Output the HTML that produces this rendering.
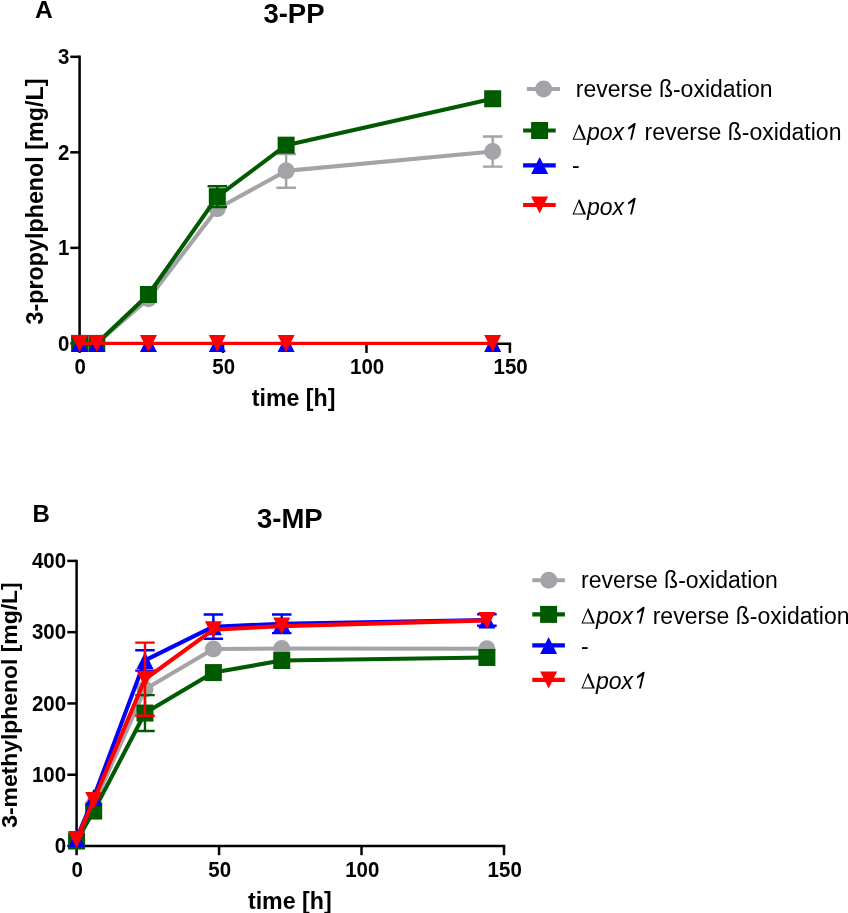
<!DOCTYPE html>
<html><head><meta charset="utf-8"><style>
html,body{margin:0;padding:0;background:#fff;width:848px;height:913px;overflow:hidden}
svg{display:block;will-change:transform}
</style></head><body>
<svg width="848" height="913" viewBox="0 0 848 913">
<style>
text{font-family:"Liberation Sans",sans-serif;fill:#000}
.tk{font-weight:bold;font-size:20.5px}
.ti{font-weight:bold;font-size:27.5px}
.ax{font-weight:bold;font-size:23.2px}
.pn{font-weight:bold;font-size:24px}
.lg{font-size:23px}
</style>
<rect width="848" height="913" fill="#fff"/>
<text x="35.0" y="17.6" class="pn" style="font-size:24.6px">A</text>
<text x="294" y="23" text-anchor="middle" class="ti">3-PP</text>
<path d="M79.6,56.8V343.7M79.6,343.7H509.9" stroke="#000" stroke-width="2.5" fill="none" stroke-linecap="square"/>
<path d="M70.3,343.40H79.6" stroke="#000" stroke-width="2.5"/>
<text transform="translate(69.3,350.90) scale(1.0,1.09)" text-anchor="end" class="tk">0</text>
<path d="M70.3,247.87H79.6" stroke="#000" stroke-width="2.5"/>
<text transform="translate(69.3,255.37) scale(1.0,1.09)" text-anchor="end" class="tk">1</text>
<path d="M70.3,152.33H79.6" stroke="#000" stroke-width="2.5"/>
<text transform="translate(69.3,159.83) scale(1.0,1.09)" text-anchor="end" class="tk">2</text>
<path d="M70.3,56.80H79.6" stroke="#000" stroke-width="2.5"/>
<text transform="translate(69.3,64.30) scale(1.0,1.09)" text-anchor="end" class="tk">3</text>
<path d="M79.60,343.7V352.9" stroke="#000" stroke-width="2.5"/>
<text transform="translate(80.30,374.4) scale(1.0,1.09)" text-anchor="middle" class="tk">0</text>
<path d="M223.03,343.7V352.9" stroke="#000" stroke-width="2.5"/>
<text transform="translate(223.73,374.4) scale(1.0,1.09)" text-anchor="middle" class="tk">50</text>
<path d="M366.47,343.7V352.9" stroke="#000" stroke-width="2.5"/>
<text transform="translate(367.17,374.4) scale(1.0,1.09)" text-anchor="middle" class="tk">100</text>
<path d="M509.90,343.7V352.9" stroke="#000" stroke-width="2.5"/>
<text transform="translate(510.60,374.4) scale(1.0,1.09)" text-anchor="middle" class="tk">150</text>
<text x="293.6" y="406.2" text-anchor="middle" class="ax">time [h]</text>
<text transform="translate(42.5,201.5) rotate(-90)" x="0" y="0" text-anchor="middle" class="ax" style="font-size:23.3px">3-propylphenol [mg/L]</text>
<polyline points="79.60,343.40 96.81,343.40 148.45,298.79 217.30,208.70 286.14,170.87 492.69,151.57" fill="none" stroke="#a3a3a8" stroke-width="4.1" stroke-linejoin="round"/>
<path d="M286.14,153.96V187.78M276.39,153.96H295.89M276.39,187.78H295.89" stroke="#a3a3a8" stroke-width="2.4" fill="none"/>
<path d="M492.69,136.47V166.66M482.94,136.47H502.44M482.94,166.66H502.44" stroke="#a3a3a8" stroke-width="2.4" fill="none"/>
<circle cx="79.60" cy="343.40" r="8.50" fill="#a3a3a8"/>
<circle cx="96.81" cy="343.40" r="8.50" fill="#a3a3a8"/>
<circle cx="148.45" cy="298.79" r="8.50" fill="#a3a3a8"/>
<circle cx="217.30" cy="208.70" r="8.50" fill="#a3a3a8"/>
<circle cx="286.14" cy="170.87" r="8.50" fill="#a3a3a8"/>
<circle cx="492.69" cy="151.57" r="8.50" fill="#a3a3a8"/>
<polyline points="79.60,343.40 96.81,343.40 148.45,294.49 217.30,196.66 286.14,145.17 492.69,98.74" fill="none" stroke="#005a00" stroke-width="4.1" stroke-linejoin="round"/>
<path d="M217.30,186.25V207.07M207.55,186.25H227.05M207.55,207.07H227.05" stroke="#005a00" stroke-width="2.4" fill="none"/>
<rect x="71.10" y="334.90" width="17" height="17" fill="#005a00"/>
<rect x="88.31" y="334.90" width="17" height="17" fill="#005a00"/>
<rect x="139.95" y="285.99" width="17" height="17" fill="#005a00"/>
<rect x="208.80" y="188.16" width="17" height="17" fill="#005a00"/>
<rect x="277.64" y="136.67" width="17" height="17" fill="#005a00"/>
<rect x="484.19" y="90.24" width="17" height="17" fill="#005a00"/>
<polyline points="79.60,343.40 96.81,343.40 148.45,343.40 217.30,343.40 286.14,343.40 492.69,343.40" fill="none" stroke="#0000ff" stroke-width="2.4" stroke-linejoin="round"/>
<path d="M71.10,351.90L79.60,334.90L88.10,351.90Z" fill="#0000ff"/>
<path d="M88.31,351.90L96.81,334.90L105.31,351.90Z" fill="#0000ff"/>
<path d="M139.95,351.90L148.45,334.90L156.95,351.90Z" fill="#0000ff"/>
<path d="M208.80,351.90L217.30,334.90L225.80,351.90Z" fill="#0000ff"/>
<path d="M277.64,351.90L286.14,334.90L294.64,351.90Z" fill="#0000ff"/>
<path d="M484.19,351.90L492.69,334.90L501.19,351.90Z" fill="#0000ff"/>
<polyline points="79.60,343.40 96.81,343.40 148.45,343.40 217.30,343.40 286.14,343.40 492.69,343.40" fill="none" stroke="#ff0000" stroke-width="3.3" stroke-linejoin="round"/>
<path d="M71.10,334.90L79.60,351.90L88.10,334.90Z" fill="#ff0000"/>
<path d="M88.31,334.90L96.81,351.90L105.31,334.90Z" fill="#ff0000"/>
<path d="M139.95,334.90L148.45,351.90L156.95,334.90Z" fill="#ff0000"/>
<path d="M208.80,334.90L217.30,351.90L225.80,334.90Z" fill="#ff0000"/>
<path d="M277.64,334.90L286.14,351.90L294.64,334.90Z" fill="#ff0000"/>
<path d="M484.19,334.90L492.69,351.90L501.19,334.90Z" fill="#ff0000"/>
<path d="M526.9,89.0H560.0" stroke="#a3a3a8" stroke-width="4.1"/>
<circle cx="543.60" cy="89.00" r="8.50" fill="#a3a3a8"/>
<text x="575.8" y="97.1" class="lg">reverse ß-oxidation</text>
<path d="M523.1,130.5H555.7" stroke="#005a00" stroke-width="4.1"/>
<rect x="531.10" y="122.00" width="17" height="17" fill="#005a00"/>
<path d="M572.50,139.70L578.85,124.50L579.75,124.50L586.10,139.70ZM574.02,138.65L583.39,138.65L578.70,127.44Z" fill="#000" fill-rule="evenodd"/>
<text x="587.00" y="139.7" class="lg"><tspan font-style="italic">pox</tspan></text>
<path d="M630.10,139.70L632.00,139.70L635.80,123.30L634.30,122.90L628.00,127.60L628.30,129.70L633.00,126.90Z" fill="#000"/>
<text x="644.60" y="139.7" class="lg">reverse ß-oxidation</text>
<path d="M523.1,165.4H555.7" stroke="#0000ff" stroke-width="4.1"/>
<path d="M531.10,173.90L539.60,156.90L548.10,173.90Z" fill="#0000ff"/>
<text x="572.0" y="172.6" class="lg">-</text>
<path d="M523.1,205.0H555.7" stroke="#ff0000" stroke-width="4.1"/>
<path d="M531.10,196.50L539.60,213.50L548.10,196.50Z" fill="#ff0000"/>
<path d="M572.50,214.60L578.85,199.40L579.75,199.40L586.10,214.60ZM574.02,213.55L583.39,213.55L578.70,202.34Z" fill="#000" fill-rule="evenodd"/>
<text x="587.00" y="214.6" class="lg"><tspan font-style="italic">pox</tspan></text>
<path d="M630.10,214.60L632.00,214.60L635.80,198.20L634.30,197.80L628.00,202.50L628.30,204.60L633.00,201.80Z" fill="#000"/>
<text x="32.6" y="521.6" class="pn">B</text>
<text x="289.8" y="527.6" text-anchor="middle" class="ti">3-MP</text>
<path d="M76.6,560.9V846.0M76.6,846.0H504.0" stroke="#000" stroke-width="2.5" fill="none" stroke-linecap="square"/>
<path d="M67.3,846.00H76.6" stroke="#000" stroke-width="2.5"/>
<text transform="translate(66.1,853.10) scale(1.0,1.09)" text-anchor="end" class="tk">0</text>
<path d="M67.3,774.73H76.6" stroke="#000" stroke-width="2.5"/>
<text transform="translate(66.1,781.83) scale(1.0,1.09)" text-anchor="end" class="tk">100</text>
<path d="M67.3,703.45H76.6" stroke="#000" stroke-width="2.5"/>
<text transform="translate(66.1,710.55) scale(1.0,1.09)" text-anchor="end" class="tk">200</text>
<path d="M67.3,632.17H76.6" stroke="#000" stroke-width="2.5"/>
<text transform="translate(66.1,639.27) scale(1.0,1.09)" text-anchor="end" class="tk">300</text>
<path d="M67.3,560.90H76.6" stroke="#000" stroke-width="2.5"/>
<text transform="translate(66.1,568.00) scale(1.0,1.09)" text-anchor="end" class="tk">400</text>
<path d="M76.60,846.0V855.2" stroke="#000" stroke-width="2.5"/>
<text transform="translate(77.30,876.7) scale(1.0,1.09)" text-anchor="middle" class="tk">0</text>
<path d="M219.07,846.0V855.2" stroke="#000" stroke-width="2.5"/>
<text transform="translate(219.77,876.7) scale(1.0,1.09)" text-anchor="middle" class="tk">50</text>
<path d="M361.53,846.0V855.2" stroke="#000" stroke-width="2.5"/>
<text transform="translate(362.23,876.7) scale(1.0,1.09)" text-anchor="middle" class="tk">100</text>
<path d="M504.00,846.0V855.2" stroke="#000" stroke-width="2.5"/>
<text transform="translate(504.70,876.7) scale(1.0,1.09)" text-anchor="middle" class="tk">150</text>
<text x="289.8" y="908.8" text-anchor="middle" class="ax">time [h]</text>
<text transform="translate(17.1,705.1) rotate(-90)" x="0" y="0" text-anchor="middle" class="ax" style="font-size:22.9px">3-methylphenol [mg/L]</text>
<polyline points="76.60,840.30 93.70,804.66 144.98,689.19 213.37,649.07 281.75,648.57 486.90,648.78" fill="none" stroke="#a3a3a8" stroke-width="4.1" stroke-linejoin="round"/>
<circle cx="76.60" cy="840.30" r="8.50" fill="#a3a3a8"/>
<circle cx="93.70" cy="804.66" r="8.50" fill="#a3a3a8"/>
<circle cx="144.98" cy="689.19" r="8.50" fill="#a3a3a8"/>
<circle cx="213.37" cy="649.07" r="8.50" fill="#a3a3a8"/>
<circle cx="281.75" cy="648.57" r="8.50" fill="#a3a3a8"/>
<circle cx="486.90" cy="648.78" r="8.50" fill="#a3a3a8"/>
<polyline points="76.60,841.01 93.70,811.08 144.98,713.07 213.37,672.59 281.75,660.54 486.90,657.48" fill="none" stroke="#005a00" stroke-width="4.1" stroke-linejoin="round"/>
<path d="M144.98,695.11V731.03M135.23,695.11H154.73M135.23,731.03H154.73" stroke="#005a00" stroke-width="2.4" fill="none"/>
<rect x="68.10" y="832.51" width="17" height="17" fill="#005a00"/>
<rect x="85.20" y="802.58" width="17" height="17" fill="#005a00"/>
<rect x="136.48" y="704.57" width="17" height="17" fill="#005a00"/>
<rect x="204.87" y="664.09" width="17" height="17" fill="#005a00"/>
<rect x="273.25" y="652.04" width="17" height="17" fill="#005a00"/>
<rect x="478.40" y="648.98" width="17" height="17" fill="#005a00"/>
<polyline points="76.60,838.87 93.70,797.53 144.98,660.40 213.37,626.69 281.75,623.76 486.90,619.99" fill="none" stroke="#0000ff" stroke-width="4.1" stroke-linejoin="round"/>
<path d="M144.98,650.21V670.59M135.23,650.21H154.73M135.23,670.59H154.73" stroke="#0000ff" stroke-width="2.4" fill="none"/>
<path d="M213.37,614.57V638.80M203.62,614.57H223.12M203.62,638.80H223.12" stroke="#0000ff" stroke-width="2.4" fill="none"/>
<path d="M281.75,614.43V633.10M272.00,614.43H291.50M272.00,633.10H291.50" stroke="#0000ff" stroke-width="2.4" fill="none"/>
<path d="M486.90,614.28V625.69M477.15,614.28H496.65M477.15,625.69H496.65" stroke="#0000ff" stroke-width="2.4" fill="none"/>
<path d="M68.10,847.37L76.60,830.37L85.10,847.37Z" fill="#0000ff"/>
<path d="M85.20,806.03L93.70,789.03L102.20,806.03Z" fill="#0000ff"/>
<path d="M136.48,668.90L144.98,651.90L153.48,668.90Z" fill="#0000ff"/>
<path d="M204.87,635.19L213.37,618.19L221.87,635.19Z" fill="#0000ff"/>
<path d="M273.25,632.26L281.75,615.26L290.25,632.26Z" fill="#0000ff"/>
<path d="M478.40,628.49L486.90,611.49L495.40,628.49Z" fill="#0000ff"/>
<polyline points="76.60,839.59 93.70,800.38 144.98,679.22 213.37,629.68 281.75,626.12 486.90,620.41" fill="none" stroke="#ff0000" stroke-width="4.1" stroke-linejoin="round"/>
<path d="M144.98,642.65V715.78M135.23,642.65H154.73M135.23,715.78H154.73" stroke="#ff0000" stroke-width="2.4" fill="none"/>
<path d="M68.10,831.09L76.60,848.09L85.10,831.09Z" fill="#ff0000"/>
<path d="M85.20,791.88L93.70,808.88L102.20,791.88Z" fill="#ff0000"/>
<path d="M136.48,670.72L144.98,687.72L153.48,670.72Z" fill="#ff0000"/>
<path d="M204.87,621.18L213.37,638.18L221.87,621.18Z" fill="#ff0000"/>
<path d="M273.25,617.62L281.75,634.62L290.25,617.62Z" fill="#ff0000"/>
<path d="M478.40,611.91L486.90,628.91L495.40,611.91Z" fill="#ff0000"/>
<path d="M532.3,580.2H564.9" stroke="#a3a3a8" stroke-width="4.1"/>
<circle cx="548.80" cy="580.20" r="8.50" fill="#a3a3a8"/>
<text x="581.0" y="588.2" class="lg">reverse ß-oxidation</text>
<path d="M532.3,614.4H564.9" stroke="#005a00" stroke-width="4.1"/>
<rect x="540.10" y="605.90" width="17" height="17" fill="#005a00"/>
<path d="M581.40,623.60L587.75,608.40L588.65,608.40L595.00,623.60ZM582.92,622.55L592.29,622.55L587.60,611.34Z" fill="#000" fill-rule="evenodd"/>
<text x="595.90" y="623.6" class="lg"><tspan font-style="italic">pox</tspan></text>
<path d="M639.00,623.60L640.90,623.60L644.70,607.20L643.20,606.80L636.90,611.50L637.20,613.60L641.90,610.80Z" fill="#000"/>
<text x="652.70" y="623.6" class="lg">reverse ß-oxidation</text>
<path d="M532.3,645.4H564.9" stroke="#0000ff" stroke-width="4.1"/>
<path d="M540.10,653.90L548.60,636.90L557.10,653.90Z" fill="#0000ff"/>
<text x="580.9" y="653.6" class="lg">-</text>
<path d="M532.3,679.9H564.9" stroke="#ff0000" stroke-width="4.1"/>
<path d="M540.10,671.40L548.60,688.40L557.10,671.40Z" fill="#ff0000"/>
<path d="M581.40,688.60L587.75,673.40L588.65,673.40L595.00,688.60ZM582.92,687.55L592.29,687.55L587.60,676.34Z" fill="#000" fill-rule="evenodd"/>
<text x="595.90" y="688.6" class="lg"><tspan font-style="italic">pox</tspan></text>
<path d="M639.00,688.60L640.90,688.60L644.70,672.20L643.20,671.80L636.90,676.50L637.20,678.60L641.90,675.80Z" fill="#000"/>
</svg>
</body></html>
